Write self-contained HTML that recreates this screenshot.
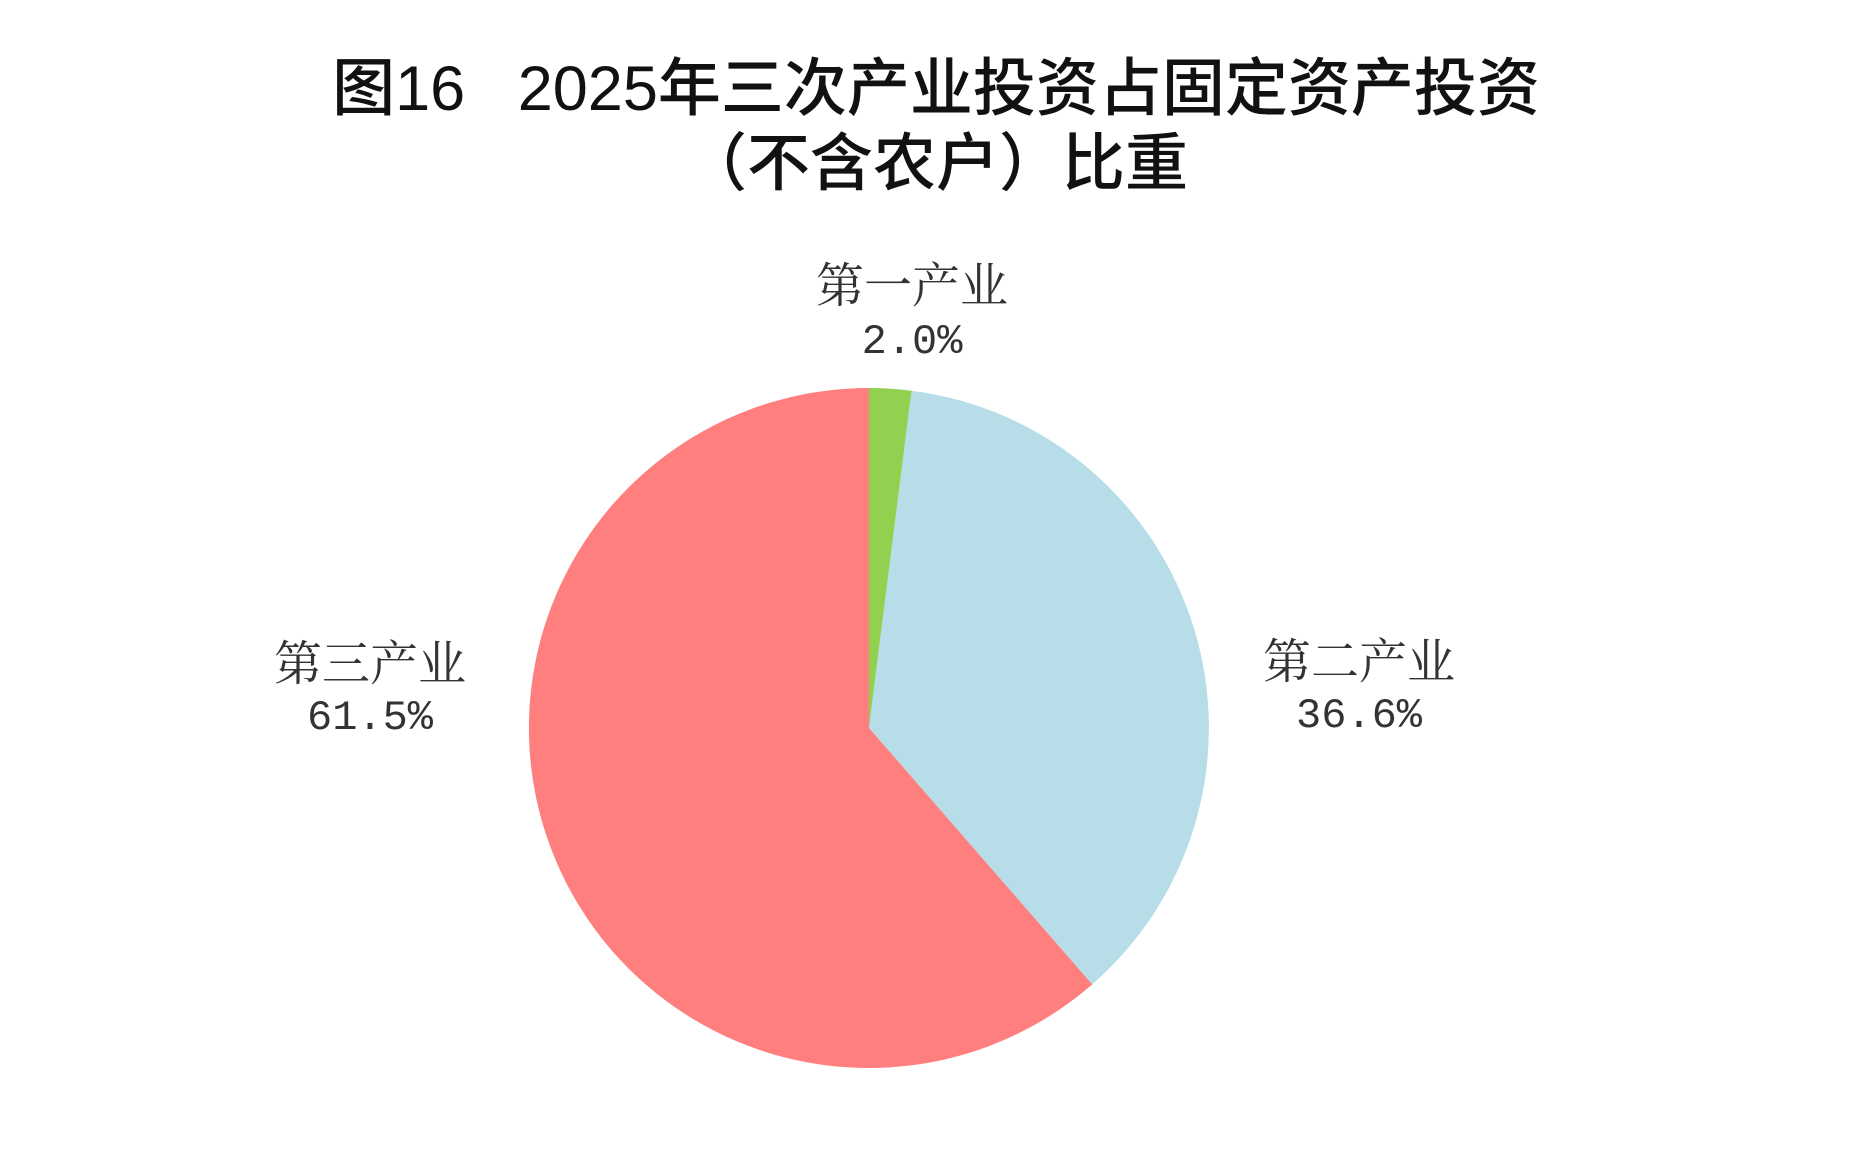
<!DOCTYPE html>
<html><head><meta charset="utf-8"><style>
html,body{margin:0;padding:0;background:#fff;}
body{width:1872px;height:1176px;position:relative;overflow:hidden;}
.t{position:absolute;left:0;width:1872px;text-align:center;font-family:"Liberation Sans","Noto Sans CJK SC",sans-serif;font-weight:500;font-size:63px;color:#111;white-space:pre;line-height:1;}
.l{position:absolute;width:400px;text-align:center;font-family:"Noto Serif CJK SC","Liberation Serif",serif;font-size:48px;color:#333;line-height:1;}
.n{font-family:"Liberation Mono","Noto Serif CJK SC",monospace;font-size:42px;}
</style></head><body>
<div class="t" style="top:58px;">图16   2025年三次产业投资占固定资产投资</div>
<div class="t" style="top:133px;">（不含农户）比重</div>
<svg width="1872" height="1176" style="position:absolute;left:0;top:0;">
<path d="M869,728 L869,388 A340,340 0 0 1 911.6,390.7 Z" fill="#92d050"/>
<path d="M869,728 L911.6,390.7 A340,340 0 0 1 1092.2,984.4 Z" fill="#b7dde8"/>
<path d="M869,728 L1092.2,984.4 A340,340 0 1 1 869,388 Z" fill="#ff7f7f"/>
</svg>
<div class="l" style="left:712px;top:258px;">第一产业</div>
<div class="l n" style="left:712px;top:321px;">2.0%</div>
<div class="l" style="left:1159px;top:634px;">第二产业</div>
<div class="l n" style="left:1159px;top:695px;">36.6%</div>
<div class="l" style="left:170px;top:636px;">第三产业</div>
<div class="l n" style="left:170px;top:697px;">61.5%</div>
</body></html>
